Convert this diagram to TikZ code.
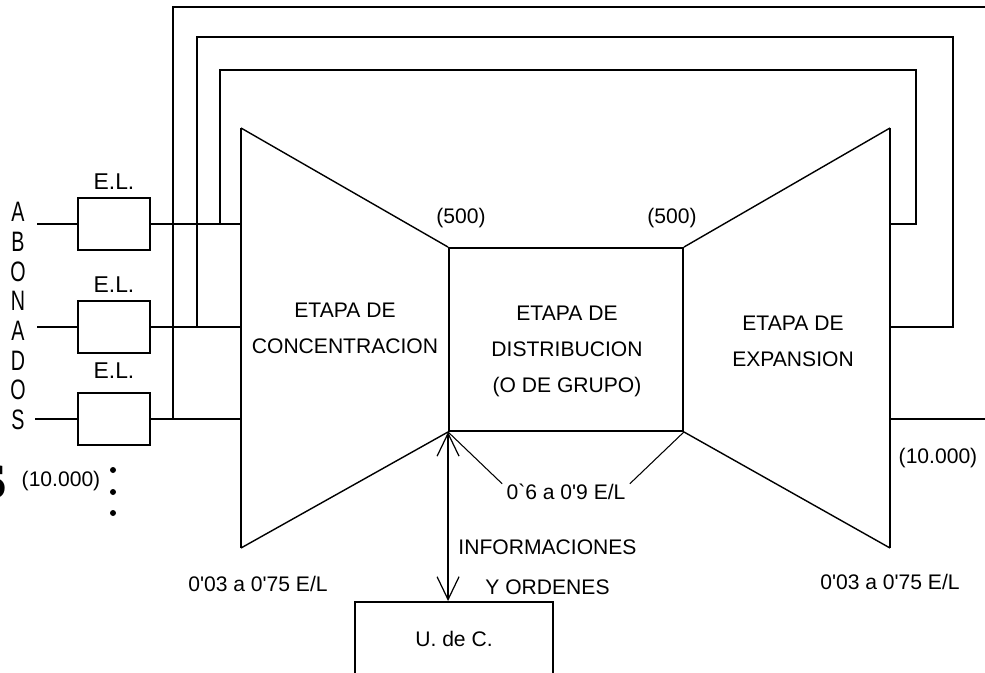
\documentclass[tikz,border=0pt]{standalone}
\usepackage{fontspec}
\setmainfont{Liberation Sans}
\newfontfamily\bigserif{Liberation Serif}
\usetikzlibrary{arrows.meta,positioning}

\tikzset{
  wire/.style={line width=1.1pt},
  slant/.style={line width=0.8pt},
  pointer/.style={line width=0.6pt},
  elbox/.style={draw, line width=1.1pt, minimum width=1.44cm, minimum height=1.04cm, inner sep=0pt},
  txt/.style={font=\fontsize{12}{20.5}\selectfont, align=center, inner sep=0pt},
  eltxt/.style={font=\fontsize{13}{13}\selectfont, inner sep=0pt},
}

\begin{document}
\begin{tikzpicture}[x=0.02cm, y=-0.02cm, >={Straight Barb[length=13pt,width=12.5pt,line width=0.7pt]}]
    \useasboundingbox (0,0) rectangle (985,673);
    \clip (0,0) rectangle (985,673);

    % stages
    \node[draw, wire, minimum width=4.68cm, minimum height=3.66cm, inner sep=0pt] (dist) at (566,339.5) {};
    \coordinate (ctl) at (241,128);
    \coordinate (cbl) at (241,548);
    \coordinate (etr) at (890,128);
    \coordinate (ebr) at (890,548);
    \draw[wire] (ctl) -- (cbl);
    \draw[slant] (ctl) -- (dist.north west);
    \draw[slant] (cbl) -- (dist.south west);
    \draw[wire] (etr) -- (ebr);
    \draw[slant] (etr) -- (dist.north east);
    \draw[slant] (ebr) -- (dist.south east);

    \node[txt] (conct) at (345,328) {ETAPA DE\\CONCENTRACION};
    \node[txt] (distt) at (567,351) {ETAPA DE\\DISTRIBUCION\\(O DE GRUPO)};
    \node[txt] (expt) at (793,341) {ETAPA DE\\EXPANSION};

    % subscriber lines
    \node[elbox] (el1) at (114,224) {};
    \node[elbox] (el2) at (114,327) {};
    \node[elbox] (el3) at (114,419) {};
    \node[eltxt, above=0.14cm of el1] (ell1) {E.L.};
    \node[eltxt, above=0.14cm of el2] (ell2) {E.L.};
    \node[eltxt, above=0.26cm of el3] (ell3) {E.L.};
    \coordinate (in1) at (37,224);
    \coordinate (in2) at (37,327);
    \coordinate (in3) at (35,419);
    \foreach \i in {1,2,3} {
        \draw[wire] (in\i) -- (el\i.west);
        \draw[wire] (el\i.east) -- (el\i.east -| ctl);
    }
    \foreach \l [count=\i from 0] in {A,B,O,N,A,D,O,S}
        \node[font=\fontsize{16}{16}\selectfont, inner sep=0pt] (ab\i) at (18,212+29.7*\i) {\scalebox{0.7}[1]{\l}};

    % loops round the stages
    \coordinate (rout1) at (890,224);
    \coordinate (rout2) at (890,327);
    \coordinate (rout3) at (890,419);
    \draw[wire] (220,224) |- (916,70) |- (rout1);
    \draw[wire] (197,327) |- (953,37) |- (rout2);
    \draw[wire] (173,419) |- (1000,7) |- (rout3);

    % quantities
    \node[txt] (n500a) at (461,218) {(500)};
    \node[txt] (n500b) at (672,218) {(500)};
    \node[txt] (n10a) at (61,481) {(10.000)};
    \node[txt] (n10b) at (938,458) {(10.000)};
    \node[txt, anchor=east] (elca) at (328,584) {0\textquotesingle03 a 0\textquotesingle75 E/L};
    \node[txt, anchor=east] (elcb) at (960,582) {0\textquotesingle03 a 0\textquotesingle75 E/L};
    \node[txt, inner xsep=0.08cm] (eld) at (566,492) {0\textasciigrave6 a 0\textquotesingle9 E/L};
    \draw[pointer] (eld.north west) -- (dist.south west);
    \draw[pointer] (eld.north east) -- (dist.south east);
    \foreach \y in {470,492,513}
        \fill (113,\y) circle (3);
    \node[font=\bigserif\bfseries\fontsize{40}{40}\selectfont, inner sep=0pt, anchor=base east] (cut) at (7,498) {s};

    % control unit
    \node[draw, wire, txt, anchor=north, minimum width=3.96cm, minimum height=1.98cm, text depth=0.5cm] (uc) at (454,601) {U. de C.};
    \draw[wire, <->] (dist.south west) -- (dist.south west |- uc.north);
    \node[font=\fontsize{12}{22.7}\selectfont, align=center, inner sep=0pt] (info) at (547.5,567) {INFORMACIONES\\Y ORDENES};
\end{tikzpicture}
\end{document}
